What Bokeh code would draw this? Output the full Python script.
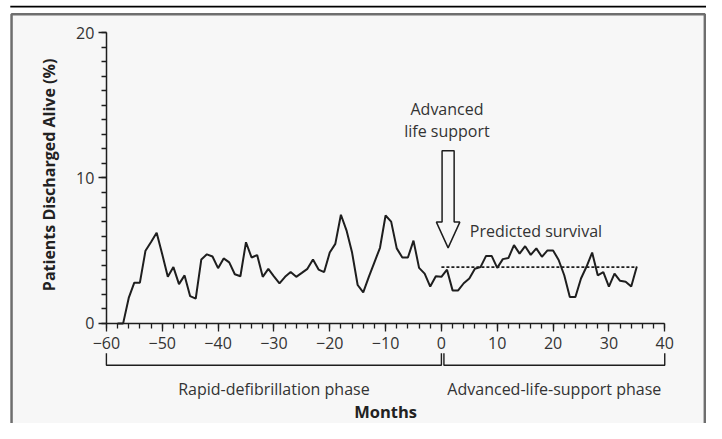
from bokeh.plotting import figure
from bokeh.models import Range1d, LinearAxis, FixedTicker
from bokeh.core.properties import value
from bokeh.embed import file_html
from bokeh.resources import INLINE
import math

# ---------------- data ----------------
months = list(range(-58, 36))
survival = [
    0.0, 0.0, 1.75, 2.8, 2.8, 5.0, 5.6, 6.24, 4.75, 3.2,       # -58 .. -49
    3.87, 2.7, 3.3, 1.87, 1.7, 4.4, 4.75, 4.6, 3.8, 4.47,      # -48 .. -39
    4.2, 3.38, 3.24, 5.58, 4.53, 4.7, 3.2, 3.75, 3.24, 2.75,   # -38 .. -29
    3.2, 3.53, 3.2, 3.47, 3.75, 4.4, 3.7, 3.53, 4.87, 5.47,    # -28 .. -19
    7.47, 6.4, 4.87, 2.64, 2.13, 3.2, 4.2, 5.2, 7.42, 7.0,     # -18 .. -9
    5.16, 4.53, 4.53, 5.69, 3.82, 3.42, 2.53, 3.24, 3.2, 3.69, # -8 .. 1
    2.27, 2.27, 2.76, 3.09, 3.76, 3.87, 4.64, 4.64, 3.82, 4.42,  # 2 .. 11
    4.49, 5.38, 4.8, 5.31, 4.71, 5.16, 4.58, 5.02, 5.02, 4.36,   # 12 .. 21
    3.31, 1.82, 1.82, 3.09, 3.91, 4.87, 3.31, 3.53, 2.53, 3.42,  # 22 .. 31
    2.93, 2.87, 2.53, 3.91,                                      # 32 .. 35
]
predicted_months = [0, 35]
predicted_survival = [3.87, 3.87]

x_ticks = [-60, -50, -40, -30, -20, -10, 0, 10, 20, 30, 40]
x_tick_labels = ["\u221260", "\u221250", "\u221240", "\u221230", "\u221220", "\u221210",
                 "0", "10", "20", "30", "40"]
x_minor = list(range(-60, 41, 2))
y_ticks = [0, 10, 20]
y_tick_labels = ["0", "10", "20"]
y_minor = list(range(0, 21))

phase_names = ["Rapid-defibrillation phase", "Advanced-life-support phase"]
phase_start = [-60, 0.45]
phase_end = [0, 40]

als_month = 1.2  # arrow marking start of advanced life support

# ---------------- geometry ----------------
# The whole 722x439 panel is drawn inside a 706x423 figure.
W, H = 706, 423
REF_W, REF_H = 722, 439
# reference pixel (X, Y) -> data
def dx(X):
    return -60 + (X - 108.3) / 5.71

def dy(Y):
    return (335.1 - Y) / 15.09

FONT = value("Open Sans")
TXT = "#333333"
INK = "#1e1e1e"

p = figure(width=W, height=H,
           x_range=Range1d(dx(0), dx(REF_W)), y_range=Range1d(dy(REF_H), dy(0)),
           output_backend="svg", toolbar_location=None,
           x_axis_location=None, y_axis_location=None,
           min_border=0, background_fill_color="white",
           border_fill_color="white", outline_line_color=None)
p.grid.visible = False

# outer decoration: top rule and grey panel
p.segment(x0=[dx(10)], y0=[dy(6.4)], x1=[dx(REF_W)], y1=[dy(6.4)], line_color="black", line_width=1.6)
p.quad(left=[dx(11.3)], right=[dx(720.3)], top=[dy(14.3)], bottom=[dy(REF_H + 20)],
       fill_color="#f7f7f7", line_color="#6e6e6e", line_width=2.5)

# axes
xaxis = LinearAxis(fixed_location=0, bounds=(-60, 40),
                   ticker=FixedTicker(ticks=x_ticks, minor_ticks=x_minor))
xaxis.major_label_overrides = {t: l for t, l in zip(x_ticks, x_tick_labels)}
yaxis = LinearAxis(fixed_location=-60, bounds=(0, 20),
                   ticker=FixedTicker(ticks=y_ticks, minor_ticks=y_minor))
yaxis.major_label_overrides = {t: l for t, l in zip(y_ticks, y_tick_labels)}
for ax in (xaxis, yaxis):
    ax.axis_line_color = INK
    ax.axis_line_width = 1.5
    ax.major_tick_line_color = INK
    ax.minor_tick_line_color = INK
    ax.major_tick_line_width = 1.3
    ax.minor_tick_line_width = 1.3
    ax.major_tick_in = 0
    ax.major_tick_out = 8
    ax.minor_tick_in = 0
    ax.minor_tick_out = 5
    ax.major_label_text_font = "Open Sans"
    ax.major_label_text_font_size = "16px"
    ax.major_label_text_color = TXT
xaxis.major_label_standoff = 6
yaxis.major_label_standoff = 4
p.add_layout(xaxis, "below")
p.add_layout(yaxis, "left")

# phase brackets
br_top, br_bot = dy(366), dy(378.5)
xs, ys = [], []
for s, e in zip(phase_start, phase_end):
    xs.append([s, s, e, e])
    ys.append([br_top, br_bot, br_bot, br_top])
p.multi_line(xs=xs, ys=ys, line_color=INK, line_width=1.4)
p.text(x=[(s + e) / 2 for s, e in zip(phase_start, phase_end)], y=[dy(403)] * 2,
       text=phase_names, text_font=FONT, text_font_size="16px", text_color=TXT,
       text_align="center", text_baseline="alphabetic")

# axis titles
p.text(x=[-10], y=[dy(427)], text=["Months"], text_font=FONT, text_font_size="16.5px",
       text_font_style="bold", text_color="#222222", text_align="center",
       text_baseline="alphabetic")
p.text(x=[dx(50)], y=[dy(181)], text=["Patients Discharged Alive (%)"],
       text_font=FONT, text_font_size="16px", text_font_style="bold",
       text_color="#222222", text_align="center", text_baseline="middle",
       angle=math.pi / 2)

# predicted survival (dotted) and observed series
p.line(predicted_months, predicted_survival, line_color=INK, line_width=1.6, line_dash="3 2")
p.line(months, survival, line_color=INK, line_width=2)

# arrow
sw, hw = 1.08, 2.1
a_top, a_base, a_tip = dy(156), dy(230), dy(256.7)
p.patch(x=[als_month - sw, als_month + sw, als_month + sw, als_month + hw, als_month,
           als_month - hw, als_month - sw],
        y=[a_top, a_top, a_base, a_base, a_tip, a_base, a_base],
        fill_color="#f7f7f7", line_color=INK, line_width=1.5)

p.text(x=[1.0, 1.0], y=[dy(113), dy(135)], text=["Advanced", "life support"],
       text_font=FONT, text_font_size="16px", text_color=TXT, text_align="center",
       text_baseline="alphabetic")
p.text(x=[dx(480)], y=[dy(239)], text=["Predicted survival"], text_font=FONT,
       text_font_size="16px", text_color=TXT, text_align="left", text_baseline="alphabetic")

open("out.html", "w").write(file_html(p, INLINE))
